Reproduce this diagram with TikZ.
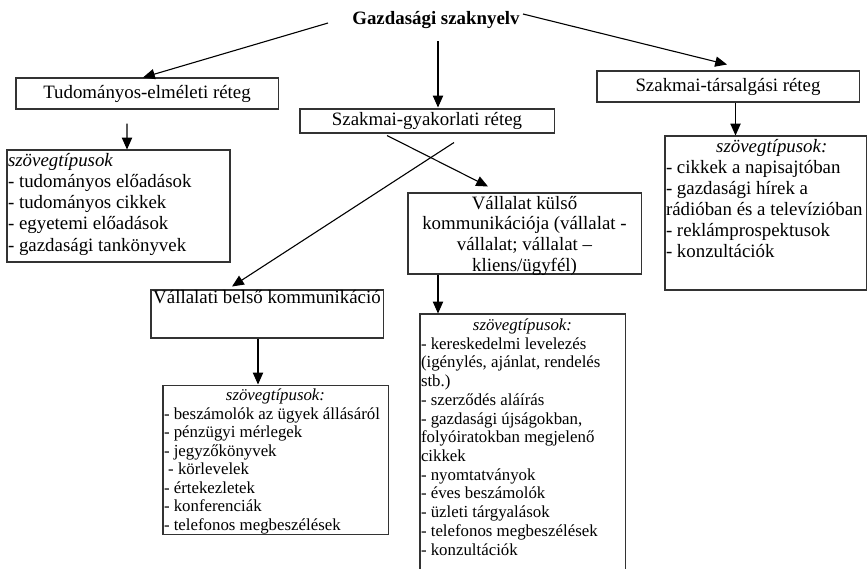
\documentclass[tikz,border=0pt]{standalone}
\usepackage{fontspec}
\setmainfont{Liberation Serif}
\usetikzlibrary{arrows.meta,calc}
% one unit of the picture grid
\newdimen\pxu \pxu=0.6357pt
% strut that fixes the first baseline of a top-aligned box
\newcommand{\firstline}[1]{\rule{0pt}{#1\pxu}}
\begin{document}
\begin{tikzpicture}[x=0.6357pt,y=-0.6357pt,
  frame/.style={draw=black!80, line width=0.65pt, inner ysep=0pt, inner xsep=0.64pt, rectangle, anchor=center},
  arr/.style={-{Triangle[length=7.5pt,width=6.5pt]}, line width=0.7pt},
  big/.style={font=\fontsize{12}{13.5}\selectfont},
  small/.style={font=\fontsize{10.7}{11.8}\selectfont}]
\fill[white] (0,0) rectangle (868,568);
\useasboundingbox (0,0) rectangle (868,568);

% root
\node[inner sep=0pt, font=\fontsize{12}{13.5}\selectfont\bfseries] (title) at (436,20) {Gazdasági szaknyelv};

% the three layers
\node[frame, big] (tud) at (147,93.5) {\parbox[c][31\pxu][c]{260\pxu}{\centering Tudományos-elméleti réteg}};
\node[frame, big] (tars) at (728,86.5) {\parbox[c][31\pxu][c]{260\pxu}{\centering Szakmai-társalgási réteg}};
\node[frame, big] (gyak) at (427,121) {\parbox[c][24\pxu][c]{252\pxu}{\centering Szakmai-gyakorlati réteg}};

% text types of the theoretical layer
\node[frame, font=\fontsize{12}{13.55}\selectfont] (tudlist) at (118.5,206)
  {\parbox[c][112\pxu][t]{221\pxu}{\raggedright\firstline{16}\textit{szövegtípusok}\\
   - tudományos előadások\\- tudományos cikkek\\- egyetemi előadások\\- gazdasági tankönyvek}};

% text types of the conversational layer
\node[frame, font=\fontsize{12}{13.35}\selectfont] (tarslist) at (765.75,213)
  {\parbox[c][154\pxu][t]{199.5\pxu}{\raggedright\firstline{16}\makebox[\linewidth]{\hspace{12\pxu}\itshape szövegtípusok:}\\
   - cikkek a napisajtóban\\- gazdasági hírek a\\\mbox{rádióban és a televízióban}\\- reklámprospektusok\\- konzultációk}};

% external and internal communication
\node[frame, font=\fontsize{12}{13.15}\selectfont] (kulso) at (524.5,233.5)
  {\parbox[c][81\pxu][t]{231\pxu}{\centering\firstline{16}Vállalat külső\\kommunikációja (vállalat -\\vállalat; vállalat –\\kliens/ügyfél)}};
\node[frame, big] (belso) at (267,314)
  {\parbox[c][48\pxu][t]{230\pxu}{\centering\firstline{13.5}\mbox{Vállalati belső kommunikáció}}};

% their text types
\node[frame, small] (belsolist) at (275.5,459.5)
  {\parbox[c][149\pxu][t]{223\pxu}{\raggedright\firstline{15.5}\makebox[\linewidth]{\itshape szövegtípusok:}\\
   - beszámolók az ügyek állásáról\\- pénzügyi mérlegek\\- jegyzőkönyvek\\\hspace*{0.25em}- körlevelek\\
   - értekezletek\\- konferenciák\\- telefonos megbeszélések}};
\node[frame, font=\fontsize{10.7}{11.9}\selectfont] (kulsolist) at (522.5,447)
  {\parbox[c][266\pxu][t]{203\pxu}{\raggedright\firstline{16.5}\makebox[\linewidth]{\itshape szövegtípusok:}\\
   - kereskedelmi levelezés\\(igénylés, ajánlat, rendelés\\stb.)\\- szerződés aláírás\\
   - gazdasági újságokban,\\folyóiratokban megjelenő\\cikkek\\- nyomtatványok\\- éves beszámolók\\
   - üzleti tárgyalások\\- telefonos megbeszélések\\- konzultációk}};

% connectors
\draw[arr] ($(title.west)+(-24,3)$) -- ($(tud.north)+(-4,0)$);
\draw[arr] ($(title.center)+(2,21)$) -- ($(gyak.north)+(11,-1)$);
\draw[arr] ($(title.center)+(87,-6)$) -- ($(tars.north)+(-1,-6)$);
\draw[arr] ($(tud.south)+(-20,14)$) -- ($(tudlist.north)+(8.5,0)$);
\draw[arr] ($(tars.south)+(7.5,0)$) -- ($(tarslist.north)+(-30.25,0)$);
\draw[arr] ($(gyak.south)+(-40,2)$) -- ($(kulso.north)+(-36.5,-6)$);
\draw[arr] ($(gyak.south)+(27,9)$) -- ($(belso.north)+(-35,-3)$);
\draw[arr] ($(belso.south)+(-9,0)$) -- ($(belsolist.north)+(-17.5,0)$);
\draw[arr] ($(kulso.south)+(-86.5,0)$) -- ($(kulsolist.north)+(-84.5,0)$);
\end{tikzpicture}
\end{document}
